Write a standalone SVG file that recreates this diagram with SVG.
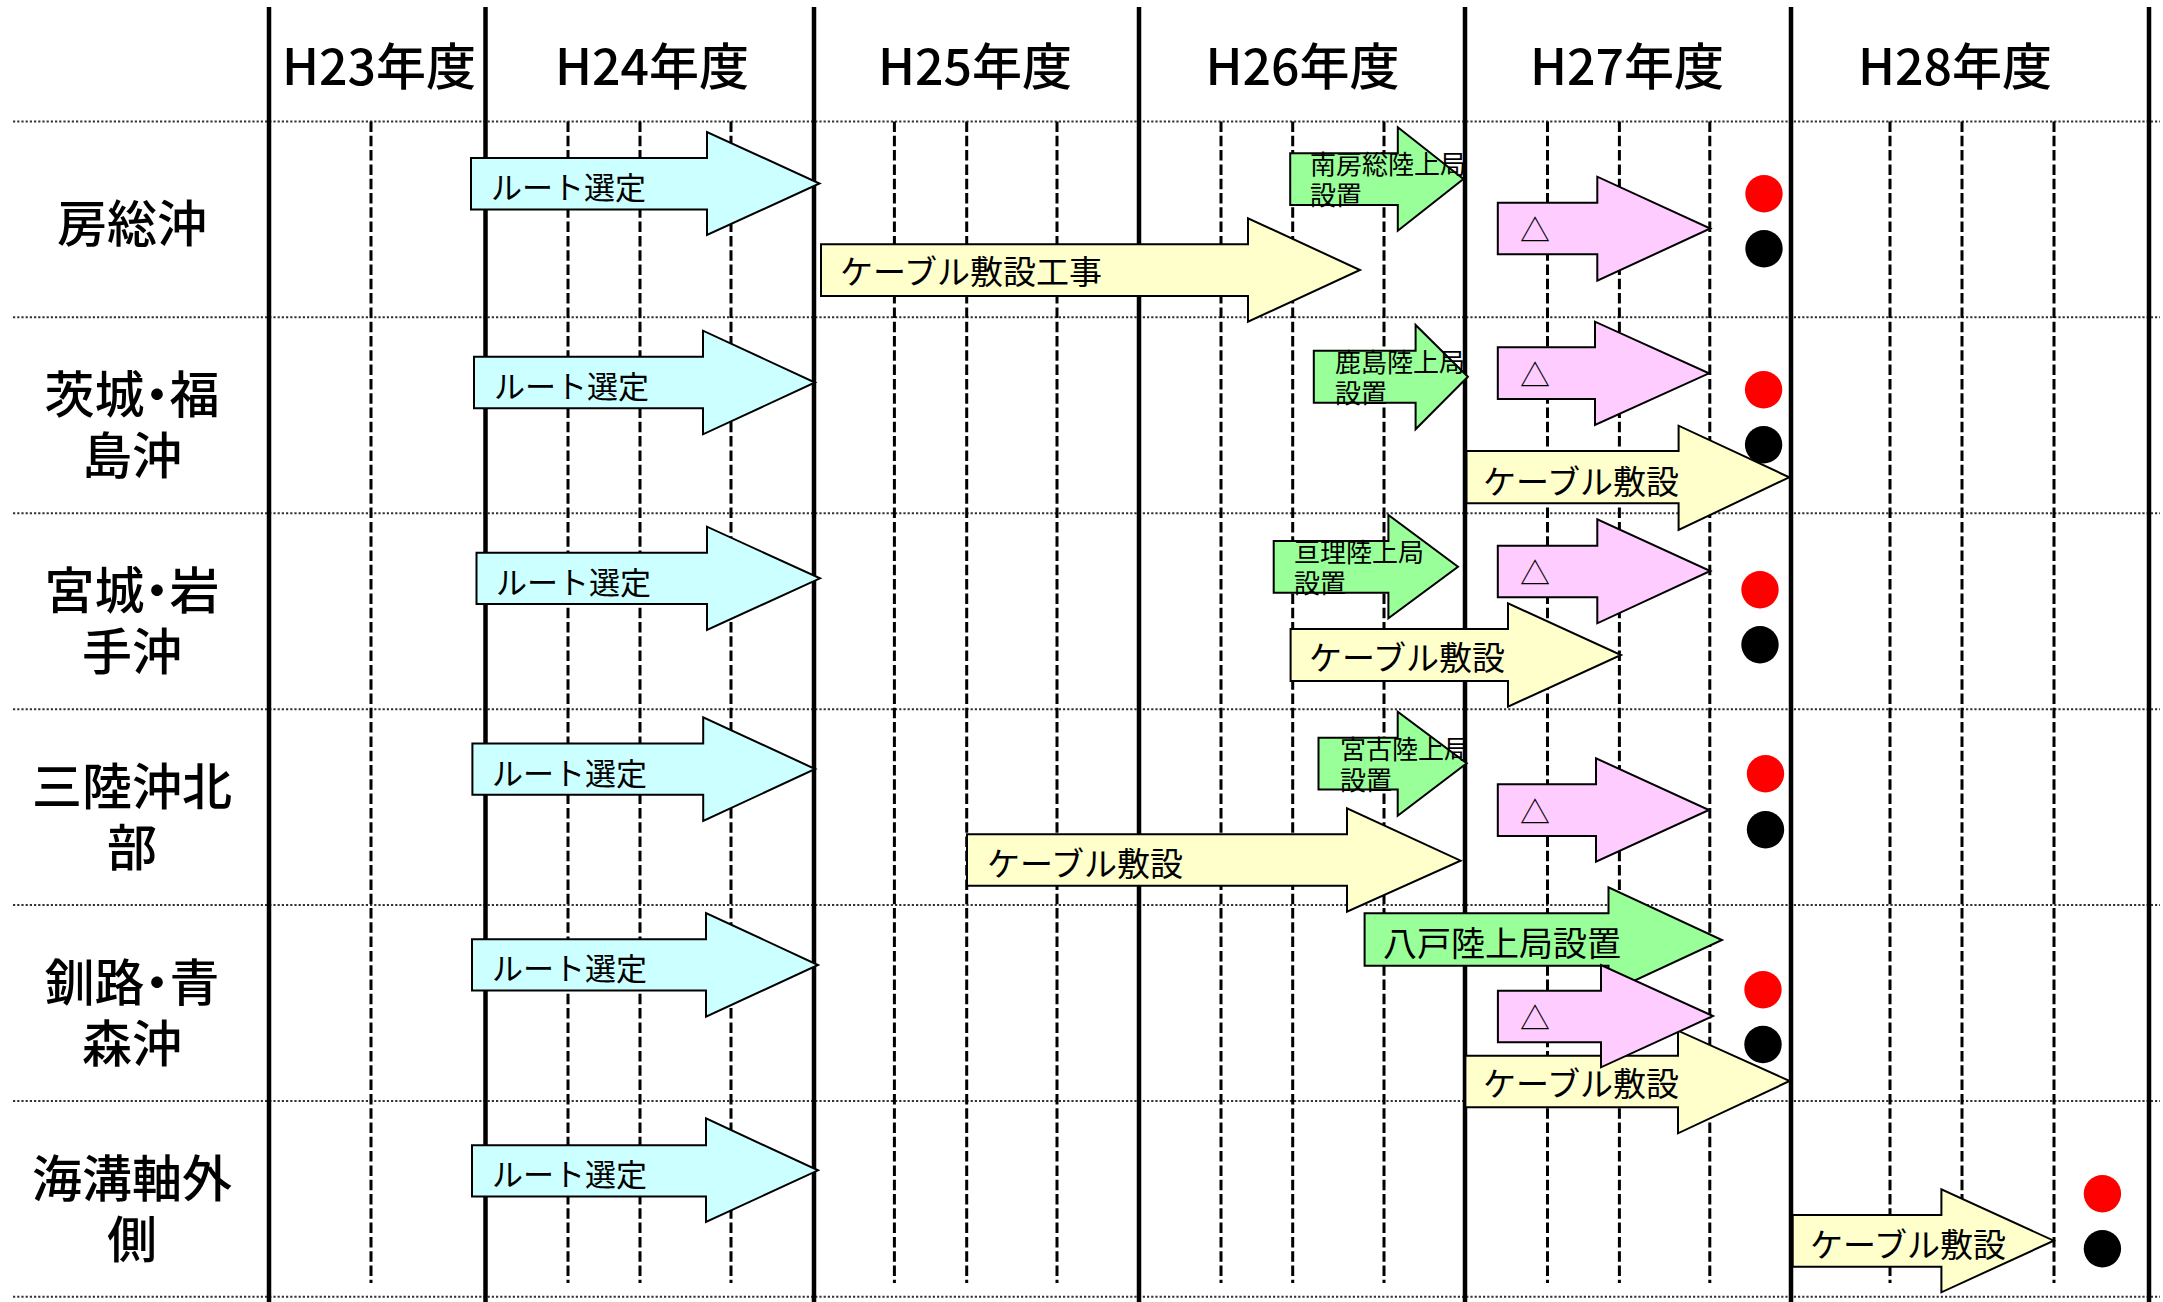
<svg xmlns="http://www.w3.org/2000/svg" width="2163" height="1302" viewBox="0 0 2163 1302">
<style>
.solid{stroke:#000;stroke-width:4.5;fill:none}
.dash{stroke:#000;stroke-width:3;stroke-dasharray:10.5 3.8;fill:none}
.dot{stroke:#333;stroke-width:2;stroke-dasharray:2.2 2;fill:none}
.arrow{stroke:#000;stroke-width:2;stroke-linejoin:miter}
.cyan{fill:#CCFFFF}.yellow{fill:#FFFFCC}.green{fill:#99FF99}.pink{fill:#FFCCFF}
.red{fill:#FF0000}.blk{fill:#000}
text{font-family:"Noto Sans CJK JP","Liberation Sans",sans-serif;fill:#000}
.hdr{font-size:50px;text-anchor:middle;font-weight:500}
.row{font-size:50px;text-anchor:middle;font-weight:500;font-feature-settings:"halt"}
.t31{font-size:31px}.t33{font-size:33px}.t26{font-size:26px}.t34{font-size:34px}.t30{font-size:30px}
</style>
<defs>
<clipPath id="clipL" clipPathUnits="userSpaceOnUse"><rect x="0" y="0" width="1463" height="1302"/></clipPath>
</defs>
<rect x="0" y="0" width="2163" height="1302" fill="#fff"/>
<g id="grid">
<g class="dot">
<line x1="13" y1="121.5" x2="2160" y2="121.5"/>
<line x1="13" y1="317.3" x2="2160" y2="317.3"/>
<line x1="13" y1="513.2" x2="2160" y2="513.2"/>
<line x1="13" y1="709.2" x2="2160" y2="709.2"/>
<line x1="13" y1="905.1" x2="2160" y2="905.1"/>
<line x1="13" y1="1101" x2="2160" y2="1101"/>
<line x1="13" y1="1296.8" x2="2160" y2="1296.8"/>
</g>
<g class="dash">
<line x1="371" y1="121.5" x2="371" y2="1283"/>
<line x1="568" y1="121.5" x2="568" y2="1283"/>
<line x1="640" y1="121.5" x2="640" y2="1283"/>
<line x1="731" y1="121.5" x2="731" y2="1283"/>
<line x1="894.4" y1="121.5" x2="894.4" y2="1283"/>
<line x1="966.7" y1="121.5" x2="966.7" y2="1283"/>
<line x1="1057" y1="121.5" x2="1057" y2="1283"/>
<line x1="1221" y1="121.5" x2="1221" y2="1283"/>
<line x1="1292.7" y1="121.5" x2="1292.7" y2="1283"/>
<line x1="1384" y1="121.5" x2="1384" y2="1283"/>
<line x1="1547.5" y1="121.5" x2="1547.5" y2="1283"/>
<line x1="1619.4" y1="121.5" x2="1619.4" y2="1283"/>
<line x1="1709.8" y1="121.5" x2="1709.8" y2="1283"/>
<line x1="1890" y1="121.5" x2="1890" y2="1283"/>
<line x1="1962" y1="121.5" x2="1962" y2="1283"/>
<line x1="2054" y1="121.5" x2="2054" y2="1283"/>
</g>
<g class="solid">
<line x1="269" y1="7" x2="269" y2="1302"/>
<line x1="485.5" y1="7" x2="485.5" y2="1302"/>
<line x1="814" y1="7" x2="814" y2="1302"/>
<line x1="1139" y1="7" x2="1139" y2="1302"/>
<line x1="1465" y1="7" x2="1465" y2="1302"/>
<line x1="1791" y1="7" x2="1791" y2="1302"/>
<line x1="2149" y1="7" x2="2149" y2="1302"/>
</g>
</g>
<g id="headers">
<text class="hdr" x="379" y="85">H23年度</text>
<text class="hdr" x="652" y="85">H24年度</text>
<text class="hdr" x="975" y="85">H25年度</text>
<text class="hdr" x="1302.6" y="85">H26年度</text>
<text class="hdr" x="1627" y="85">H27年度</text>
<text class="hdr" x="1955" y="85">H28年度</text>
</g>
<g id="rowlabels">
<text class="row" x="132" y="241.5">房総沖</text>
<text class="row" x="132" y="413">茨城・福<tspan x="132" dy="61">島沖</tspan></text>
<text class="row" x="132" y="609">宮城・岩<tspan x="132" dy="61">手沖</tspan></text>
<text class="row" x="132" y="805">三陸沖北<tspan x="132" dy="61">部</tspan></text>
<text class="row" x="132" y="1001">釧路・青<tspan x="132" dy="61">森沖</tspan></text>
<text class="row" x="132" y="1197">海溝軸外<tspan x="132" dy="61">側</tspan></text>
</g>
<g id="dots">
<circle class="red" cx="1764" cy="193.7" r="18.7"/>
<circle class="blk" cx="1764" cy="248.7" r="18.7"/>
<circle class="red" cx="1763.6" cy="389.7" r="18.7"/>
<circle class="blk" cx="1763.6" cy="444.7" r="18.7"/>
<circle class="red" cx="1760" cy="589.7" r="18.7"/>
<circle class="blk" cx="1760" cy="644.7" r="18.7"/>
<circle class="red" cx="1765.5" cy="773.7" r="18.7"/>
<circle class="blk" cx="1765.5" cy="829.7" r="18.7"/>
<circle class="red" cx="1763" cy="989.7" r="18.7"/>
<circle class="blk" cx="1763" cy="1044.5" r="18.7"/>
<circle class="red" cx="2102.4" cy="1193.7" r="18.7"/>
<circle class="blk" cx="2102.4" cy="1248.7" r="18.7"/>
</g>
<g id="route1"><polygon class="arrow cyan" points="471,158 707,158 707,132 819.5,183.5 707,235 707,209.5 471,209.5"/><text class="t31" x="491" y="199">ルート選定</text></g>
<g id="route2"><polygon class="arrow cyan" points="474,356.7 703,356.7 703,330.7 815,382.5 703,434.3 703,408.3 474,408.3"/><text class="t31" x="494" y="398">ルート選定</text></g>
<g id="route3"><polygon class="arrow cyan" points="476.5,552.7 707,552.7 707,526.7 820,578.3 707,630 707,604 476.5,604"/><text class="t31" x="496" y="594">ルート選定</text></g>
<g id="route4"><polygon class="arrow cyan" points="472.4,743.4 703.2,743.4 703.2,717.3 815.2,769 703.2,821 703.2,794.8 472.4,794.8"/><text class="t31" x="492" y="784.6">ルート選定</text></g>
<g id="route5"><polygon class="arrow cyan" points="472,939.2 706,939.2 706,913 818,965 706,1016.7 706,990.6 472,990.6"/><text class="t31" x="492" y="980.4">ルート選定</text></g>
<g id="route6"><polygon class="arrow cyan" points="472,1145.3 706,1145.3 706,1118.4 818,1170.3 706,1222 706,1196.4 472,1196.4"/><text class="t31" x="492" y="1186">ルート選定</text></g>
<g id="cable1"><polygon class="arrow yellow" points="821,244.3 1248,244.3 1248,218.3 1360,270 1248,321.7 1248,296 821,296"/><text class="t33" x="840" y="284">ケーブル敷設工事</text></g>
<g id="cable2"><polygon class="arrow yellow" points="1466.5,451 1678.6,451 1678.6,425.7 1789.3,477.3 1678.6,530 1678.6,503.3 1466.5,503.3"/><text class="t33" x="1483" y="494">ケーブル敷設</text></g>
<g id="cable3"><polygon class="arrow yellow" points="1290.6,629 1508,629 1508,603.3 1621,655 1508,706.7 1508,681 1290.6,681"/><text class="t33" x="1309" y="670">ケーブル敷設</text></g>
<g id="cable4"><polygon class="arrow yellow" points="967,834.3 1347,834.3 1347,808.3 1460.6,860.7 1347,911.7 1347,885.7 967,885.7"/><text class="t33" x="987" y="875.5">ケーブル敷設</text></g>
<g id="cable5"><polygon class="arrow yellow" points="1465.4,1055.7 1678,1055.7 1678,1030.7 1789.7,1081 1678,1133.3 1678,1107.3 1465.4,1107.3"/><text class="t33" x="1483" y="1095.5">ケーブル敷設</text></g>
<g id="cable6"><polygon class="arrow yellow" points="1792.7,1215 1941.4,1215 1941.4,1189.3 2053.8,1240.7 1941.4,1292.3 1941.4,1266.7 1792.7,1266.7"/><text class="t33" x="1810" y="1256.5">ケーブル敷設</text></g>
<g id="station1"><polygon class="arrow green" points="1290.2,153.3 1397.8,153.3 1397.8,127.3 1463.4,179 1397.8,230.7 1397.8,205 1290.2,205"/><text class="t26" x="1310" y="174" clip-path="url(#clipL)">南房総陸上局<tspan x="1310" dy="31">設置</tspan></text></g>
<g id="station2"><polygon class="arrow green" points="1313.8,350.7 1415.6,350.7 1415.6,325 1467.9,376.7 1415.6,429.3 1415.6,402.7 1313.8,402.7"/><text class="t26" x="1335" y="372" clip-path="url(#clipL)">鹿島陸上局<tspan x="1335" dy="31">設置</tspan></text></g>
<g id="station3"><polygon class="arrow green" points="1273.7,541 1388.4,541 1388.4,515 1458,566.7 1388.4,618.3 1388.4,592.7 1273.7,592.7"/><text class="t26" x="1294" y="562">亘理陸上局<tspan x="1294" dy="31">設置</tspan></text></g>
<g id="station4"><polygon class="arrow green" points="1318.5,737.7 1397.7,737.7 1397.7,711.7 1466.7,763.3 1397.7,815.7 1397.7,789.5 1318.5,789.5"/><text class="t26" x="1340" y="759" clip-path="url(#clipL)">宮古陸上局<tspan x="1340" dy="31">設置</tspan></text></g>
<g id="station5"><polygon class="arrow green" points="1364.6,913.3 1608.5,913.3 1608.5,887.3 1722,940 1608.5,992.7 1608.5,965.7 1364.6,965.7"/><text class="t34" x="1383" y="956">八戸陸上局設置</text></g>
<g id="test1"><polygon class="arrow pink" points="1497.8,202.7 1597.3,202.7 1597.3,176.7 1710.3,228.5 1597.3,280.7 1597.3,254.3 1497.8,254.3"/><text class="t30" x="1520" y="241">△</text></g>
<g id="test2"><polygon class="arrow pink" points="1497.8,347.3 1595,347.3 1595,321.7 1709,373.3 1595,425 1595,399 1497.8,399"/><text class="t30" x="1520" y="386">△</text></g>
<g id="test3"><polygon class="arrow pink" points="1497.8,545.7 1597.3,545.7 1597.3,519.3 1710.3,571 1597.3,623.3 1597.3,597.3 1497.8,597.3"/><text class="t30" x="1520" y="584">△</text></g>
<g id="test4"><polygon class="arrow pink" points="1497.8,784.3 1596,784.3 1596,758.3 1709,810 1596,861.7 1596,836 1497.8,836"/><text class="t30" x="1520" y="823">△</text></g>
<g id="test5"><polygon class="arrow pink" points="1497.9,990.7 1601,990.7 1601,965 1713,1016 1601,1067.3 1601,1042.3 1497.9,1042.3"/><text class="t30" x="1520" y="1029">△</text></g>
<g id="connectors"/>
</svg>
